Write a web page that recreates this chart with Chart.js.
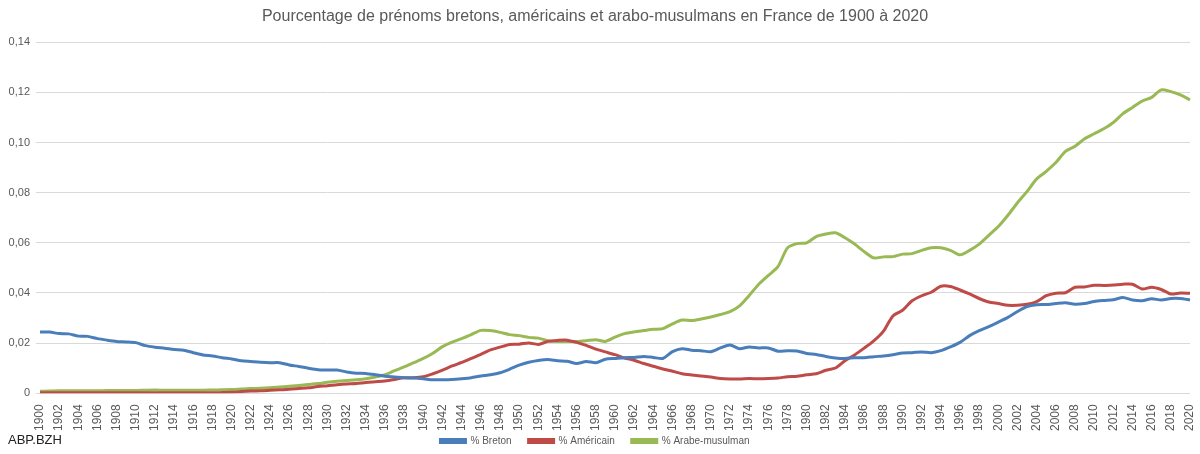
<!DOCTYPE html>
<html lang="fr">
<head>
<meta charset="utf-8">
<title>Prénoms en France 1900-2020</title>
<script src="https://cdn.jsdelivr.net/npm/chart.js@4/dist/chart.umd.min.js"></script>
<style>
    body { margin: 0; background: #fff; }
    #wrap { position: relative; width: 1200px; height: 454px; }
    #source { position: absolute; left: 8px; top: 432px; font: 13px "Liberation Sans", Arial, sans-serif; color: #222; }
</style>
</head>
<body>
<div id="wrap">
    <canvas id="prenomsChart"></canvas>
    <div id="source">ABP.BZH</div>
</div>
<script>
// Années 1900 à 2020
const annees = [];
for (let a = 1900; a <= 2020; a++) annees.push(String(a));

const yTicks = [0, 0.02, 0.04, 0.06, 0.08, 0.1, 0.12, 0.14];

const breton = [
    0.0244, 0.0244, 0.0238, 0.0237, 0.0228, 0.0227, 0.0218, 0.0212, 0.0207, 0.0205,
    0.0202, 0.0190, 0.0184, 0.0180, 0.0175, 0.0172, 0.0162, 0.0153, 0.0149, 0.0142,
    0.0137, 0.0130, 0.0127, 0.0124, 0.0122, 0.0122, 0.0113, 0.0107, 0.0100, 0.0094,
    0.0093, 0.0093, 0.0085, 0.0080, 0.0079, 0.0074, 0.0068, 0.0065, 0.0062, 0.0061,
    0.0058, 0.0054, 0.0054, 0.0055, 0.0058, 0.0062, 0.0069, 0.0074, 0.0082, 0.0096,
    0.0112, 0.0124, 0.0131, 0.0135, 0.0130, 0.0128, 0.0119, 0.0127, 0.0122, 0.0136,
    0.0139, 0.0142, 0.0143, 0.0147, 0.0143, 0.0139, 0.0166, 0.0178, 0.0172, 0.0170,
    0.0166, 0.0181, 0.0193, 0.0178, 0.0185, 0.0181, 0.0181, 0.0168, 0.0170, 0.0169,
    0.0159, 0.0155, 0.0147, 0.0141, 0.0139, 0.0142, 0.0142, 0.0146, 0.0149, 0.0154,
    0.0161, 0.0162, 0.0165, 0.0162, 0.0170, 0.0185, 0.0203, 0.0230, 0.0250, 0.0266,
    0.0284, 0.0303, 0.0326, 0.0346, 0.0353, 0.0354, 0.0358, 0.0361, 0.0355, 0.0358,
    0.0366, 0.0370, 0.0373, 0.0382, 0.0372, 0.0369, 0.0377, 0.0372, 0.0378, 0.0378,
    0.0372
];

const americain = [
    0.0002, 0.0002, 0.0002, 0.0002, 0.0002, 0.0002, 0.0002, 0.0002, 0.0002, 0.0002,
    0.0002, 0.0002, 0.0002, 0.0002, 0.0002, 0.0002, 0.0002, 0.0002, 0.0002, 0.0003,
    0.0004, 0.0007, 0.0009, 0.0010, 0.0012, 0.0014, 0.0016, 0.0019, 0.0022, 0.0027,
    0.0030, 0.0034, 0.0037, 0.0039, 0.0043, 0.0046, 0.0049, 0.0055, 0.0062, 0.0062,
    0.0066, 0.0078, 0.0092, 0.0109, 0.0123, 0.0139, 0.0155, 0.0173, 0.0184, 0.0195,
    0.0196, 0.0201, 0.0195, 0.0207, 0.0211, 0.0212, 0.0203, 0.0191, 0.0176, 0.0165,
    0.0154, 0.0141, 0.0132, 0.0119, 0.0108, 0.0097, 0.0088, 0.0078, 0.0073, 0.0069,
    0.0065, 0.0059, 0.0057, 0.0057, 0.0059, 0.0058, 0.0059, 0.0061, 0.0066, 0.0068,
    0.0074, 0.0078, 0.0092, 0.0101, 0.0130, 0.0153, 0.0180, 0.0209, 0.0247, 0.0308,
    0.0331, 0.0369, 0.0389, 0.0403, 0.0427, 0.0426, 0.0412, 0.0396, 0.0378, 0.0364,
    0.0358, 0.0351, 0.0351, 0.0355, 0.0366, 0.0389, 0.0399, 0.0401, 0.0423, 0.0424,
    0.0431, 0.0430, 0.0432, 0.0435, 0.0435, 0.0416, 0.0423, 0.0414, 0.0396, 0.0400,
    0.0399
];

const arabeMusulman = [
    0.0008, 0.0009, 0.0010, 0.0010, 0.0010, 0.0010, 0.0010, 0.0011, 0.0011, 0.0011,
    0.0011, 0.0012, 0.0013, 0.0012, 0.0012, 0.0012, 0.0012, 0.0012, 0.0013, 0.0014,
    0.0015, 0.0017, 0.0019, 0.0020, 0.0022, 0.0025, 0.0028, 0.0031, 0.0035, 0.0039,
    0.0044, 0.0048, 0.0051, 0.0054, 0.0058, 0.0065, 0.0074, 0.0090, 0.0105, 0.0122,
    0.0139, 0.0160, 0.0186, 0.0204, 0.0218, 0.0234, 0.0251, 0.0250, 0.0243, 0.0234,
    0.0230, 0.0223, 0.0220, 0.0210, 0.0207, 0.0207, 0.0207, 0.0210, 0.0214, 0.0207,
    0.0224, 0.0238, 0.0245, 0.0250, 0.0255, 0.0258, 0.0277, 0.0292, 0.0290, 0.0296,
    0.0304, 0.0314, 0.0326, 0.0349, 0.0390, 0.0435, 0.0470, 0.0505, 0.0580, 0.0597,
    0.0600, 0.0625, 0.0635, 0.0640, 0.0620, 0.0595, 0.0565, 0.0540, 0.0544, 0.0545,
    0.0555, 0.0557, 0.0570, 0.0580, 0.0580, 0.0570, 0.0552, 0.0570, 0.0595, 0.0630,
    0.0665, 0.0710, 0.0760, 0.0805, 0.0855, 0.0885, 0.0920, 0.0965, 0.0985, 0.1015,
    0.1035, 0.1055, 0.1080, 0.1115, 0.1140, 0.1165, 0.1180, 0.1210, 0.1203, 0.1190,
    0.1170
];

const gris = '#595959';
const police = "'Liberation Sans', Arial, sans-serif";

function serie(label, data, couleur) {
    return {
        label: label,
        data: data,
        borderColor: couleur,
        backgroundColor: couleur,
        borderWidth: 3,
        pointRadius: 0,
        tension: 0.25,
        fill: false
    };
}

new Chart(document.getElementById('prenomsChart'), {
    type: 'line',
    data: {
        labels: annees,
        datasets: [
            serie('% Breton', breton, '#4a7ebb'),
            serie('% Américain', americain, '#be4b48'),
            serie('% Arabe-musulman', arabeMusulman, '#98b954')
        ]
    },
    options: {
        responsive: true,
        maintainAspectRatio: false,
        animation: false,
        layout: { padding: { left: 0, right: 10, top: 0, bottom: -2 } },
        plugins: {
            title: {
                display: true,
                text: 'Pourcentage de prénoms bretons, américains et arabo-musulmans en France de 1900 à 2020',
                color: gris,
                font: { family: police, size: 16, weight: 'normal' },
                padding: { top: 7, bottom: 16 }
            },
            legend: {
                position: 'bottom',
                labels: {
                    color: gris,
                    boxWidth: 25,
                    boxHeight: 3,
                    padding: 2,
                    font: { family: police, size: 10 },
                    // petit padding vertical, donc on écarte les entrées avec des espaces
                    generateLabels: function (chart) {
                        const items = Chart.defaults.plugins.legend.labels.generateLabels(chart);
                        items.forEach(function (it, i) {
                            if (i < items.length - 1) it.text += '\u2003\u2002';
                        });
                        return items;
                    }
                }
            },
            tooltip: { enabled: false }
        },
        scales: {
            x: {
                offset: false,
                grid: { display: false },
                border: { display: false },
                afterFit: function (axis) { axis.paddingLeft = 0; axis.paddingRight = 0; },
                ticks: {
                    autoSkip: false,
                    maxRotation: 90,
                    minRotation: 90,
                    color: gris,
                    font: { family: police, size: 12 },
                    padding: 3,
                    callback: function (v, i) { return i % 2 === 0 ? annees[i] : ''; }
                }
            },
            y: {
                min: 0,
                max: 0.14,
                afterBuildTicks: function (axis) { axis.ticks = yTicks.map(v => ({ value: v })); },
                afterFit: function (axis) { axis.width = 40; },
                border: { display: false },
                grid: { color: '#d9d9d9', tickLength: 4 },
                ticks: {
                    color: gris,
                    font: { family: police, size: 11 },
                    padding: 6,
                    callback: function (v) { return v === 0 ? '0' : v.toFixed(2).replace('.', ','); }
                }
            }
        }
    }
});
</script>
</body>
</html>
